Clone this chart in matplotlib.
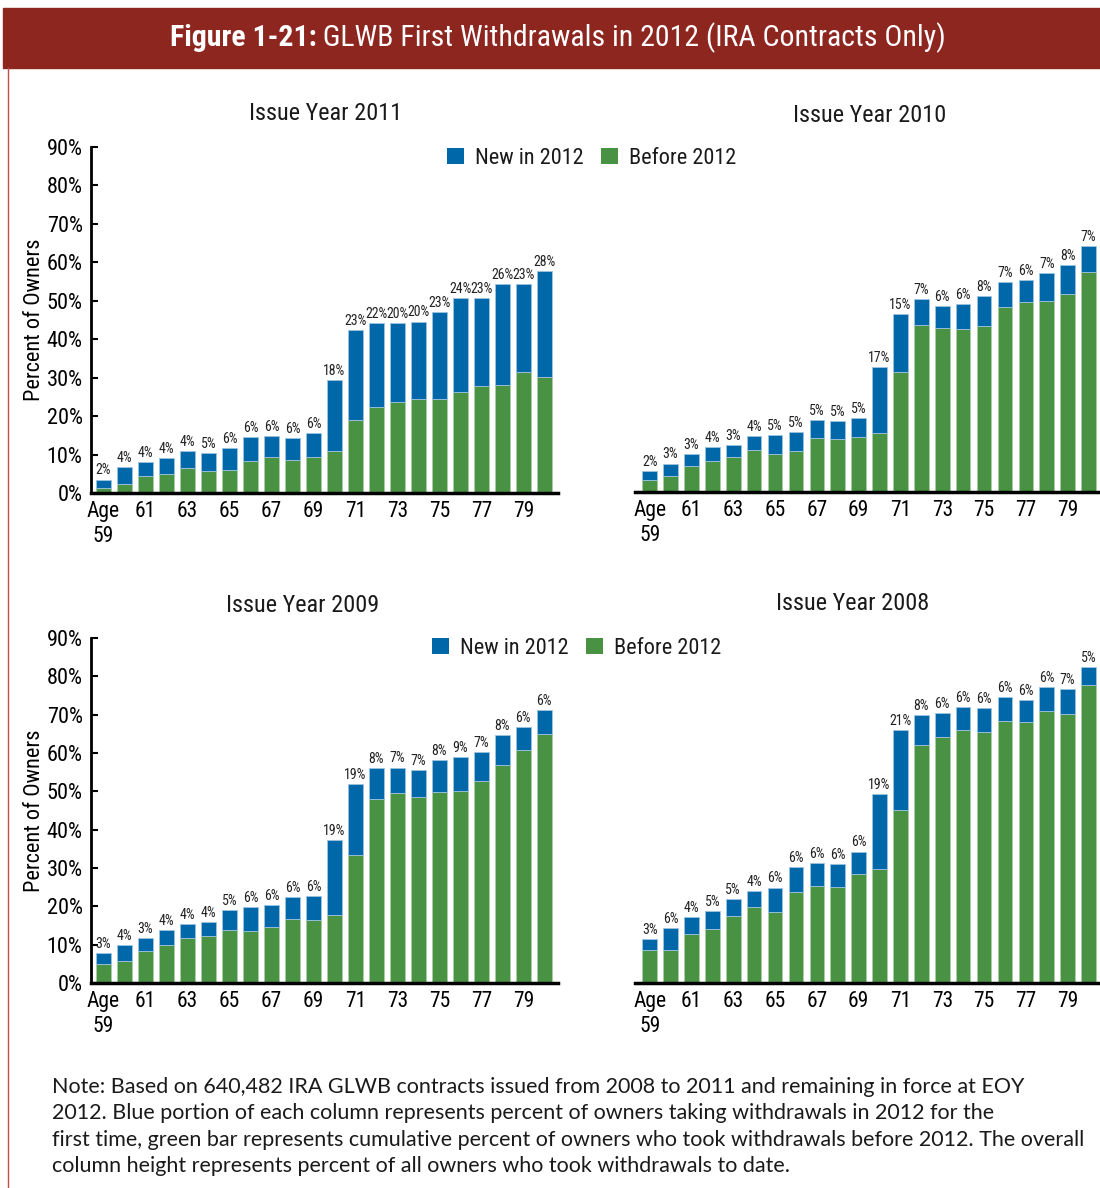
import matplotlib
matplotlib.use("Agg")
import matplotlib.pyplot as plt
from matplotlib import font_manager as fm
from matplotlib.patches import Patch, Rectangle
from matplotlib.lines import Line2D

# ages 59..80
ages = list(range(59, 81))
tick_labels = ["Age\n59"] + [str(a) for a in range(61, 81, 2)]

before_2011 = [1.2, 2.4, 4.3, 4.9, 6.6, 5.7, 6.1, 8.3, 9.3, 8.6, 9.4, 11.0, 19.0, 22.4, 23.7, 24.4, 24.4, 26.2, 27.8, 28.1, 31.6, 30.1]
new_2011 = [2.3, 4.3, 3.7, 4.2, 4.3, 4.6, 5.7, 6.2, 5.6, 5.7, 6.3, 18.3, 23.4, 21.7, 20.4, 20.2, 22.6, 24.4, 22.8, 26.3, 22.8, 27.6]

before_2010 = [3.0, 4.1, 6.7, 8.1, 9.2, 11.0, 10.0, 10.7, 14.0, 13.9, 14.4, 15.4, 31.3, 43.5, 42.7, 42.5, 43.3, 48.0, 49.4, 49.7, 51.5, 57.1]
new_2010 = [2.4, 3.3, 3.2, 3.7, 3.0, 3.6, 4.8, 5.0, 4.7, 4.6, 4.8, 17.2, 14.9, 6.6, 5.7, 6.3, 7.6, 6.6, 5.7, 7.2, 7.6, 6.9]

before_2009 = [5.0, 5.8, 8.4, 9.8, 11.7, 12.3, 13.8, 13.6, 14.5, 16.8, 16.5, 17.8, 33.4, 48.0, 49.6, 48.5, 49.7, 50.2, 52.8, 57.0, 60.7, 65.0]
new_2009 = [2.7, 4.1, 3.3, 3.9, 3.6, 3.6, 5.3, 6.1, 5.8, 5.7, 6.1, 19.4, 18.6, 8.0, 6.6, 7.0, 8.4, 8.7, 7.4, 7.6, 6.0, 6.1]

before_2008 = [8.5, 8.7, 12.8, 14.1, 17.4, 19.7, 18.5, 23.8, 25.4, 25.1, 28.5, 29.8, 45.2, 62.2, 64.1, 66.1, 65.5, 68.4, 68.2, 71.0, 70.1, 77.8]
new_2008 = [3.0, 5.6, 4.3, 4.6, 4.6, 4.2, 6.4, 6.4, 5.8, 5.9, 5.8, 19.4, 20.9, 7.6, 6.3, 5.8, 6.2, 6.2, 5.6, 6.1, 6.6, 4.6]

note_lines = [
    "Note: Based on 640,482 IRA GLWB contracts issued from 2008 to 2011 and remaining in force at EOY",
    "2012. Blue portion of each column represents percent of owners taking withdrawals in 2012 for the",
    "first time, green bar represents cumulative percent of owners who took withdrawals before 2012. The overall",
    "column height represents percent of all owners who took withdrawals to date.",
]

BLUE = "#0067a9"
GREEN = "#4a9243"
RED = "#8e2620"

# narrow font if we have one
names = {f.name for f in fm.fontManager.ttflist}
narrow = "DejaVu Sans"
for cand in ["Roboto Condensed", "Liberation Sans Narrow", "Open Sans Condensed"]:
    if cand in names:
        narrow = cand
        break
plt.rcParams["font.family"] = [narrow, "DejaVu Sans"]
plt.rcParams["text.color"] = "#1a1a1a"

W, H = 1100, 1188
fig = plt.figure(figsize=(W / 100, H / 100), dpi=100)


def fx(px):
    return px / W


def fy(py):
    return 1 - py / H


# header band
fig.patches.append(Rectangle((fx(3), fy(68)), 1 - fx(3), fy(8) - fy(68),
                             transform=fig.transFigure, color=RED, zorder=0))
fig.lines.append(Line2D([fx(8), fx(8)], [0, fy(68)], transform=fig.transFigure,
                        color="#c0504a", lw=1))

renderer = fig.canvas.get_renderer()
t1 = fig.text(0, fy(38), "Figure 1-21:", color="white", fontsize=21.5,
              fontweight="bold", va="center", ha="left")
t2 = fig.text(0, fy(38), " GLWB First Withdrawals in 2012 (IRA Contracts Only)",
              color="white", fontsize=21.5, va="center", ha="left")
w1 = t1.get_window_extent(renderer).width
w2 = t2.get_window_extent(renderer).width
start = 558 - (w1 + w2) / 2
t1.set_x(fx(start))
t2.set_x(fx(start + w1))

panels = [
    ("Issue Year 2011", before_2011, new_2011, (91, 558, 147, 493), True, (326, 113)),
    ("Issue Year 2010", before_2010, new_2010, (635, 1099, 146, 492), False, (870, 116)),
    ("Issue Year 2009", before_2009, new_2009, (91, 558, 638, 983), True, (303, 605)),
    ("Issue Year 2008", before_2008, new_2008, (635, 1099, 638, 983), False, (853, 604)),
]

x = list(range(len(ages)))
for title, before, new, (l, r, t, b), left, (tx, ty) in panels:
    ax = fig.add_axes([fx(l), fy(b), fx(r) - fx(l), fy(t) - fy(b)])
    ax.bar(x, before, width=0.7, color=GREEN, edgecolor="#a9cfa3", linewidth=0.6)
    ax.bar(x, new, bottom=before, width=0.7, color=BLUE, edgecolor="#9cc4e2", linewidth=0.6)
    for xi, bv, nv in zip(x, before, new):
        ax.annotate(f"{round(nv)}%", (xi, bv + nv), xytext=(0, 1.5),
                    textcoords="offset points", ha="center", va="bottom",
                    fontsize=10, color="#222222")
    ax.set_ylim(0, 90)
    if left:
        ax.set_xlim(-0.6, 21.65)
    else:
        ax.set_xlim(-0.7, 21.5)
    ax.set_xticks(x[::2])
    ax.set_xticklabels(tick_labels, fontsize=15.5)
    ax.tick_params(axis="x", length=0, pad=6)
    for s in ["top", "right"]:
        ax.spines[s].set_visible(False)
    ax.spines["bottom"].set_linewidth(2.5)
    if left:
        ax.set_yticks(range(0, 91, 10))
        ax.set_yticklabels([f"{v}%" for v in range(0, 91, 10)], fontsize=16)
        ax.tick_params(axis="y", direction="in", length=5, width=1.5, pad=6)
        ax.spines["left"].set_linewidth(2)
        ax.set_ylabel("Percent of Owners", fontsize=16, labelpad=4)
        ax.yaxis.set_label_coords(-(l - 45) / (r - l), 0.5)
    else:
        ax.spines["left"].set_visible(False)
        ax.set_yticks([])
    fig.text(fx(tx), fy(ty), title, fontsize=17.5, ha="center", va="center")

handles = [Patch(facecolor=BLUE, label="New in 2012"), Patch(facecolor=GREEN, label="Before 2012")]
for lx, ly in [(447, 158), (432, 648)]:
    fig.legend(handles=handles, loc="center left", bbox_to_anchor=(fx(lx), fy(ly)),
               ncol=2, frameon=False, fontsize=16, handlelength=0.75, handleheight=0.75,
               handletextpad=0.5, columnspacing=0.8, borderaxespad=0, borderpad=0)

# note: fit first line to the reference width
note_font = ["Lato", "DejaVu Sans"]
probe = fig.text(0, 0, note_lines[0], fontsize=16, family=note_font)
pw = probe.get_window_extent(renderer).width
probe.remove()
note_size = 16 * 974 / pw
for i, line in enumerate(note_lines):
    fig.text(fx(52), fy(1087 + i * 26.3), line, fontsize=note_size, va="center",
             ha="left", family=note_font)

fig.savefig("out.png", dpi=100)
